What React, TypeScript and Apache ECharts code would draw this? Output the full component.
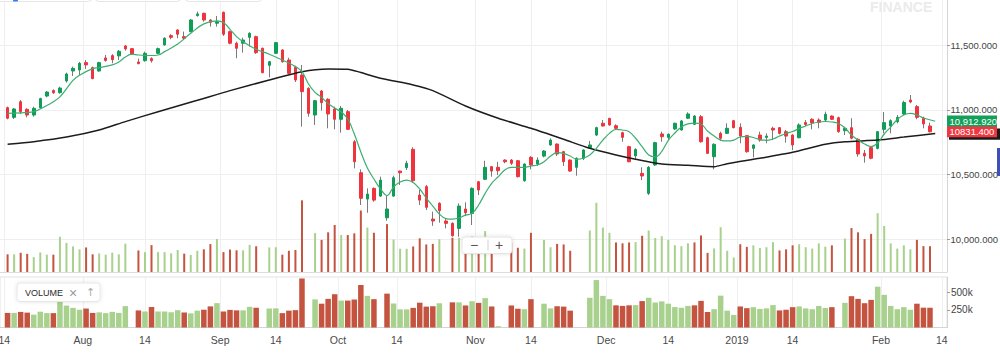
import React, { useEffect, useRef } from "react";
import * as echarts from "echarts";

// ---- price data (one entry per trading session, index 0..141) ----
const open = [
  11018, 10943, 11064, 11005, 10961, 11018, 11108, 11150, 11134, 11225,
  11302, 11310, 11367, 11328, 11302, 11403, 11421, 11419, 11496, 11475,
  11372, 11382, 11398, 11439, 11504, 11576, 11620, 11568, 11607, 11731,
  11749, 11697, 11672, 11757, 11607, 11517, 11517, 11563, 11568, 11478,
  11346, 11439, 11465, 11387, 11331, 11271, 11168, 10961, 11147, 11083,
  11008, 10928, 10987, 10754, 10514, 10310, 10393, 10333, 10165, 10333,
  10527, 10553, 10695, 10341, 10406, 10155, 10277, 10140, 10122, 10083,
  10233, 10199, 10444, 10463, 10561, 10556, 10612, 10612, 10607, 10452,
  10633, 10581, 10643, 10729, 10736, 10677, 10612, 10556, 10626, 10708,
  10806, 10897, 10935, 10878, 10824, 10716, 10644, 10509, 10354, 10574,
  10814, 10788, 10853, 10845, 10936, 10889, 10948, 10785, 10638, 10819,
  10819, 10917, 10866, 10801, 10703, 10806, 10788, 10858, 10863, 10832,
  10806, 10785, 10903, 10928, 10922, 10922, 10953, 10940, 10840, 10863,
  10773, 10664, 10708, 10703, 10850, 10876, 10909, 10969, 11077, 11026,
  10936, 10876,
];
const close = [
  10936, 11008, 10987, 10961, 11013, 11088, 11139, 11134, 11170, 11279,
  11323, 11362, 11349, 11243, 11367, 11384, 11390, 11455, 11473, 11434,
  11359, 11439, 11382, 11475, 11556, 11563, 11587, 11556, 11697, 11744,
  11697, 11680, 11684, 11587, 11517, 11478, 11542, 11594, 11444, 11289,
  11374, 11522, 11374, 11284, 11232, 11142, 10974, 11072, 11057, 10969,
  10928, 11013, 10850, 10599, 10316, 10349, 10302, 10457, 10233, 10475,
  10514, 10587, 10452, 10302, 10246, 10140, 10220, 10122, 10026, 10256,
  10204, 10393, 10380, 10556, 10527, 10530, 10599, 10587, 10483, 10581,
  10574, 10612, 10682, 10767, 10659, 10599, 10527, 10626, 10690, 10729,
  10863, 10876, 10884, 10858, 10788, 10599, 10695, 10489, 10556, 10747,
  10793, 10812, 10897, 10915, 10969, 10953, 10754, 10664, 10734, 10781,
  10858, 10863, 10798, 10677, 10729, 10767, 10798, 10845, 10819, 10798,
  10729, 10884, 10888, 10900, 10905, 10967, 10928, 10832, 10858, 10781,
  10659, 10644, 10626, 10832, 10902, 10917, 10943, 11058, 11062, 10943,
  10892, 10831.4,
];
const low = [
  10928, 10930, 10969, 10943, 10948, 11010, 11098, 11124, 11126, 11212,
  11263, 11271, 11318, 11238, 11297, 11374, 11362, 11387, 11460, 11426,
  11354, 11374, 11367, 11432, 11498, 11548, 11556, 11542, 11602, 11723,
  11684, 11646, 11646, 11574, 11509, 11401, 11444, 11491, 11434, 11284,
  11253, 11434, 11367, 11277, 11217, 10871, 10948, 10884, 10995, 10858,
  10850, 10824, 10845, 10548, 10264, 10204, 10289, 10328, 10142, 10328,
  10419, 10535, 10437, 10264, 10225, 10103, 10127, 10083, 10018, 10018,
  10178, 10109, 10341, 10457, 10483, 10496, 10587, 10574, 10478, 10444,
  10540, 10566, 10633, 10723, 10643, 10566, 10522, 10491, 10612, 10703,
  10798, 10871, 10878, 10845, 10754, 10595, 10612, 10457, 10341, 10566,
  10754, 10767, 10845, 10840, 10930, 10884, 10747, 10659, 10540, 10762,
  10814, 10858, 10742, 10669, 10633, 10754, 10742, 10767, 10810, 10747,
  10690, 10781, 10876, 10850, 10858, 10909, 10922, 10824, 10806, 10773,
  10638, 10592, 10618, 10695, 10819, 10819, 10897, 10961, 11052, 10928,
  10858, 10827,
];
const high = [
  11026, 11015, 11077, 11013, 11026, 11095, 11147, 11160, 11181, 11289,
  11336, 11372, 11387, 11336, 11374, 11426, 11432, 11465, 11504, 11478,
  11398, 11452, 11408, 11483, 11563, 11587, 11625, 11607, 11705, 11762,
  11754, 11705, 11728, 11762, 11615, 11529, 11560, 11602, 11576, 11483,
  11380, 11527, 11470, 11405, 11343, 11349, 11176, 11077, 11155, 11091,
  11026, 11031, 11000, 10767, 10540, 10393, 10400, 10483, 10336, 10491,
  10530, 10607, 10711, 10380, 10419, 10212, 10285, 10161, 10130, 10277,
  10285, 10401, 10450, 10607, 10566, 10599, 10618, 10620, 10612, 10587,
  10643, 10633, 10690, 10780, 10742, 10682, 10618, 10633, 10695, 10760,
  10871, 10922, 10940, 10889, 10832, 10723, 10703, 10556, 10566, 10754,
  10832, 10819, 10902, 10922, 10982, 10961, 10961, 10793, 10742, 10832,
  10897, 10922, 10897, 10806, 10734, 10832, 10819, 10871, 10868, 10845,
  10812, 10897, 10922, 10936, 10936, 10987, 10959, 10948, 10871, 10936,
  10781, 10690, 10716, 10837, 10984, 10928, 10961, 11072, 11116, 11039,
  10948, 10902,
];
// volume in thousands (null = no volume reported)
const volumeK: (number | null)[] = [
  206, 206, 220, 210, 181, 223, 203, 203, 364, 309,
  277, 251, 268, 206, 214, 203, 221, 206, 302, null,
  241, 226, 289, 226, 226, 215, 245, 212, 200, 238,
  251, 298, 344, 226, 249, 242, 242, 292, 278, null,
  268, 270, 203, 238, 245, 692, null, 397, 336, 404,
  470, 380, 380, 395, 600, 447, 400, null, 478, 339,
  256, 256, 277, 350, 295, 300, 342, null, 355, 355,
  311, 371, 348, 415, 297, 18, null, 311, 265, 258,
  400, null, 336, 270, 300, 295, 238, null, null, 420,
  670, 447, 400, 313, 305, 313, 316, 373, 420, 353,
  369, 336, 288, 279, 305, 313, 376, 219, 259, 450,
  238, 178, 297, 273, 287, 262, 270, 316, 241, 251,
  287, 297, 270, 258, 304, 275, 287, null, 348, 442,
  404, 343, 390, 576, 461, 304, 258, 287, 251, 336,
  280, 279,
];
// short moving average [session index, value]
const maFast: number[][] = [
  [0, 10974], [2, 10978], [4, 10987], [6, 11035], [7, 11064], [8, 11101], [10, 11229], [11, 11269],
  [13, 11320], [14, 11328], [16, 11349], [17, 11372], [18, 11411], [19, 11432], [20, 11426], [22, 11422],
  [23, 11426], [24, 11452], [26, 11511], [28, 11594], [30, 11667], [32, 11690], [33, 11677], [34, 11625],
  [35, 11568], [36, 11529], [38, 11470], [40, 11432], [42, 11387], [44, 11336], [45, 11297], [46, 11201],
  [47, 11136], [48, 11097], [49, 11050], [50, 11015], [51, 10984], [52, 10930], [53, 10814], [54, 10674],
  [55, 10550], [56, 10465], [57, 10388], [58, 10337], [59, 10403], [60, 10442], [61, 10457], [62, 10438],
  [63, 10388], [64, 10318], [65, 10256], [66, 10194], [67, 10159], [68, 10155], [69, 10163], [70, 10186],
  [71, 10199], [72, 10264], [73, 10354], [74, 10432], [75, 10483], [76, 10535], [77, 10556], [78, 10556],
  [79, 10556], [80, 10566], [81, 10574], [82, 10599], [83, 10643], [84, 10669], [85, 10664], [86, 10643],
  [87, 10618], [88, 10626], [89, 10651], [90, 10703], [91, 10767], [92, 10819], [93, 10850], [94, 10845],
  [95, 10832], [96, 10781], [97, 10716], [98, 10651], [99, 10636], [100, 10680], [101, 10765], [102, 10822],
  [103, 10868], [104, 10892], [105, 10899], [106, 10892], [107, 10837], [108, 10798], [109, 10767], [110, 10760],
  [111, 10767], [112, 10791], [113, 10795], [114, 10787], [115, 10771], [116, 10764], [117, 10775], [118, 10798],
  [119, 10818], [120, 10833], [121, 10857], [122, 10876], [123, 10895], [124, 10907], [125, 10911], [126, 10907],
  [127, 10895], [128, 10860], [129, 10806], [130, 10767], [131, 10736], [132, 10717], [133, 10744], [134, 10814],
  [135, 10868], [136, 10926], [137, 10961], [138, 10973], [139, 10961], [140, 10938], [141.8, 10912.92],
];
// long moving average [session index, value]
const maSlow: number[][] = [
  [0, 10734], [4, 10754], [9, 10790], [14, 10845], [18, 10910], [23, 10987], [29, 11075], [34, 11150],
  [40, 11232], [45, 11297], [49, 11318], [52, 11316], [54, 11290], [57, 11246], [62, 11194], [65, 11150],
  [70, 11031], [75, 10936], [80, 10858], [85, 10773], [89, 10703], [93, 10651], [96, 10618], [100, 10581],
  [104, 10572], [108, 10561], [110, 10584], [115, 10626], [120, 10672], [125, 10734], [128, 10754], [133, 10767],
  [137, 10790], [141.8, 10818],
];
// x tick labels and their session positions
const tickLabels = ["14", "Aug", "14", "Sep", "14", "Oct", "14", "Nov", "14", "Dec", "14", "2019", "14", "Feb", "14"];
const tickPos = [-0.5, 11.5, 21, 32.5, 41, 50.5, 59.5, 71.5, 80, 91.5, 101, 111.5, 120, 133.5, 142.8];
const priceTicks = [10000, 10500, 11000, 11500];
const volTicks = [250, 500];

const FONT = "'Liberation Sans', Arial, Helvetica, sans-serif";
const UP = "#0f9d58";
const DOWN = "#f0343e";
const WICK = "#7a7a7a";
const VOL_UP = "#a8d18d";
const VOL_DOWN = "#c4533f";

export default function App() {
  const ref = useRef<HTMLDivElement | null>(null);
  useEffect(() => {
    if (!ref.current) return;
    const chart = echarts.init(ref.current, null, { renderer: "svg" });
    const idx = close.map((_, i) => i);
    const wickData = idx.map((i) => [i, open[i], close[i], low[i], high[i]]);
    const bodyData = idx.map((i) => [i, open[i], close[i], Math.min(open[i], close[i]), Math.max(open[i], close[i])]);
    const isUpVol = (i: number) => (i === 0 ? close[0] >= open[0] : close[i] >= close[i - 1]);
    const volItems = idx
      .filter((i) => volumeK[i] != null)
      .map((i) => ({ value: [i, volumeK[i]], itemStyle: { color: isUpVol(i) ? VOL_UP : VOL_DOWN } }));
    const xLabel = (v: number) => {
      const k = tickPos.findIndex((p) => Math.abs(p - v) < 1e-6);
      return k >= 0 ? tickLabels[k] : "";
    };
    const priceFmt = (v: number) =>
      v.toLocaleString("en-US", { minimumFractionDigits: 3, maximumFractionDigits: 3 });
    const xMin = -1.16;
    const xMax = 143.6;

    chart.setOption({
      animation: false,
      textStyle: { fontFamily: FONT },
      grid: [
        { left: 0, top: 0, width: 947, height: 272, outerBoundsMode: "none" },
        { left: 0, top: 277, width: 947, height: 50.5, outerBoundsMode: "none", show: true, borderColor: "#e2e2e2", borderWidth: 1 },
      ],
      xAxis: [
        {
          type: "value", gridIndex: 0, min: xMin, max: xMax,
          axisLine: { show: true, onZero: false, lineStyle: { color: "#dcdcdc" } },
          axisTick: { show: false, customValues: tickPos },
          axisLabel: { show: false, customValues: tickPos },
          splitLine: { show: true, lineStyle: { color: "#efefef" } },
        },
        {
          type: "value", gridIndex: 1, min: xMin, max: xMax,
          axisLine: { show: true, onZero: false, lineStyle: { color: "#d4d4d4" } },
          axisTick: { show: false, customValues: tickPos },
          axisLabel: { customValues: tickPos, formatter: xLabel, color: "#4a4a4a", fontSize: 10.5, margin: 6.5, fontFamily: FONT },
          splitLine: { show: true, lineStyle: { color: "#efefef" } },
        },
      ],
      yAxis: [
        {
          type: "value", gridIndex: 0, position: "right", min: 9745, max: 11852,
          axisLine: { show: true, onZero: false, lineStyle: { color: "#d4d4d4" } },
          axisTick: { show: true, length: 3, customValues: priceTicks, lineStyle: { color: "#9a9a9a" } },
          axisLabel: { customValues: priceTicks, formatter: priceFmt, color: "#444", fontSize: 9.5, margin: 3.5, fontFamily: FONT },
          splitLine: { show: true, lineStyle: { color: "#efefef" } },
        },
        { type: "value", gridIndex: 0, min: 47, max: 2495, show: false, splitLine: { show: false } },
        {
          type: "value", gridIndex: 1, position: "right", min: 0, max: 713,
          axisLine: { show: true, onZero: false, lineStyle: { color: "#d4d4d4" } },
          axisTick: { show: true, length: 3, customValues: volTicks, lineStyle: { color: "#9a9a9a" } },
          axisLabel: { customValues: volTicks, formatter: (v: number) => `${v}k`, color: "#444", fontSize: 10, margin: 4, fontFamily: FONT },
          splitLine: { show: false },
        },
      ],
      series: [
        { type: "bar", xAxisIndex: 0, yAxisIndex: 1, data: volItems, barWidth: 2, z: 1, silent: true },
        {
          type: "candlestick", xAxisIndex: 0, yAxisIndex: 0, data: wickData, barWidth: 1, z: 2, silent: true,
          itemStyle: { color: WICK, color0: WICK, borderColor: WICK, borderColor0: WICK, borderWidth: 1 },
        },
        {
          type: "candlestick", xAxisIndex: 0, yAxisIndex: 0, data: bodyData, barWidth: 3, z: 3, silent: true,
          itemStyle: { color: UP, color0: DOWN, borderColor: UP, borderColor0: DOWN, borderWidth: 1 },
        },
        {
          type: "line", xAxisIndex: 0, yAxisIndex: 0, data: maSlow, smooth: 0.25, showSymbol: false, z: 4, silent: true,
          lineStyle: { color: "#1c1c1c", width: 1.5 },
        },
        {
          type: "line", xAxisIndex: 0, yAxisIndex: 0, data: maFast, smooth: 0.4, showSymbol: false, z: 5, silent: true,
          lineStyle: { color: "#3dae70", width: 1.2 },
        },
        { type: "bar", xAxisIndex: 1, yAxisIndex: 2, data: volItems, barWidth: 5.5, z: 1, silent: true },
      ],
    });

    const lastFast = maFast[maFast.length - 1][1];
    const lastClose = close[close.length - 1];
    const yFast = chart.convertToPixel({ yAxisIndex: 0 } as any, lastFast) as unknown as number;
    const yClose = chart.convertToPixel({ yAxisIndex: 0 } as any, lastClose) as unknown as number;
    const tagFont = `9.5px ${FONT}`;

    chart.setOption({
      graphic: [
        { type: "rect", z: 50, silent: true, shape: { x: -10, y: -20, width: 102, height: 21.5, r: 4 }, style: { fill: "#fff", stroke: "#e6e6e6" } },
        { type: "rect", z: 50, silent: true, shape: { x: 95, y: -20, width: 86, height: 21.5, r: 4 }, style: { fill: "#fff", stroke: "#e6e6e6" } },
        { type: "rect", z: 50, silent: true, shape: { x: 185, y: -20, width: 77, height: 21.5, r: 4 }, style: { fill: "#fff", stroke: "#e6e6e6" } },
        { type: "rect", z: 51, silent: true, shape: { x: 13, y: -2, width: 5, height: 3.5, r: 1 }, style: { fill: "#2d7ff9" } },
        {
          type: "text", z: 0, silent: true, x: 870, y: 7,
          style: { text: "FINANCE", fill: "#ebebeb", font: "bold 14px 'Liberation Sans', Arial, sans-serif", verticalAlign: "middle" },
        },
        // zoom buttons
        {
          type: "rect", z: 60, silent: true, shape: { x: 462, y: 237, width: 50, height: 16.5, r: 3 },
          style: { fill: "#fff", stroke: "#e4e4e4", shadowBlur: 4, shadowColor: "rgba(0,0,0,0.12)" },
        },
        { type: "line", z: 61, silent: true, shape: { x1: 488, y1: 239.5, x2: 488, y2: 250.5 }, style: { stroke: "#d0d0d0", lineWidth: 1 } },
        { type: "text", z: 61, silent: true, x: 474, y: 245, style: { text: "\u2212", fill: "#555", font: "14px 'Liberation Sans', Arial, sans-serif", align: "center", verticalAlign: "middle" } },
        { type: "text", z: 61, silent: true, x: 499, y: 245, style: { text: "+", fill: "#555", font: "14px 'Liberation Sans', Arial, sans-serif", align: "center", verticalAlign: "middle" } },
        // volume legend
        {
          type: "rect", z: 60, silent: true, shape: { x: 17, y: 283, width: 83, height: 18.5, r: 3 },
          style: { fill: "#fff", stroke: "#e6e6e6", shadowBlur: 4, shadowColor: "rgba(0,0,0,0.1)" },
        },
        { type: "text", z: 61, silent: true, x: 25, y: 292.5, style: { text: "VOLUME", fill: "#2a2a2a", font: `9px ${FONT}`, verticalAlign: "middle" } },
        { type: "text", z: 61, silent: true, x: 73, y: 292.5, style: { text: "\u00d7", fill: "#9a9a9a", font: "14px 'Liberation Sans', Arial, sans-serif", align: "center", verticalAlign: "middle" } },
        { type: "text", z: 61, silent: true, x: 90.5, y: 292.5, style: { text: "\u2191", fill: "#a8a8a8", font: "11px 'DejaVu Sans', sans-serif", align: "center", verticalAlign: "middle" } },
        // last-value tags
        { type: "rect", z: 70, silent: true, shape: { x: 947, y: yFast - 5.8, width: 50, height: 11.6 }, style: { fill: "#14a05b" } },
        { type: "text", z: 71, silent: true, x: 949.5, y: yFast, style: { text: priceFmt(lastFast), fill: "#fff", font: tagFont, verticalAlign: "middle" } },
        { type: "rect", z: 72, silent: true, shape: { x: 949, y: yClose - 3.3, width: 51, height: 11.3 }, style: { fill: "#1b1b1b" } },
        { type: "rect", z: 73, silent: true, shape: { x: 947, y: yClose - 5.3, width: 50, height: 10.8 }, style: { fill: "#f0363f" } },
        { type: "text", z: 74, silent: true, x: 949.5, y: yClose, style: { text: lastClose.toFixed(3), fill: "#fff", font: tagFont, verticalAlign: "middle" } },
        // side marker
        { type: "rect", z: 70, silent: true, shape: { x: 997, y: 148, width: 4, height: 28 }, style: { fill: "#3e50b4" } },
      ],
    });

    return () => chart.dispose();
  }, []);
  return <div ref={ref} style={{ position: "absolute", left: 0, top: 0, width: 1000, height: 355 }} />;
}
